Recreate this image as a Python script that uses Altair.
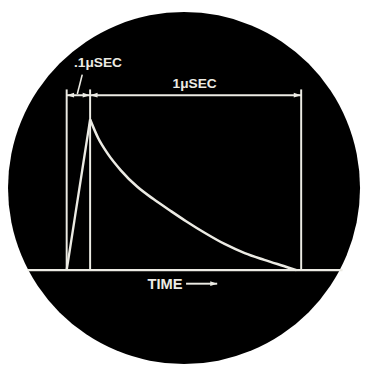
import altair as alt
import pandas as pd

# --- values (time in µs, amplitude relative to peak) ---
rise_t = [0.0, 0.11]
rise_a = [0.0, 1.0]

decay_t = [0.11, 0.147, 0.193, 0.254, 0.330, 0.407, 0.483, 0.560, 0.651, 0.743, 0.835, 0.927, 1.018, 1.078]
decay_a = [1.0, 0.879, 0.772, 0.663, 0.555, 0.472, 0.398, 0.325, 0.245, 0.172, 0.113, 0.068, 0.027, 0.0]

marker_t = [0.0, 0.11, 1.10]          # vertical reference lines
marker_top = 1.20

dim_a = 1.162                          # dimension line level
arrow_t = [0.0, 0.11, 0.11, 1.10]
arrow_dir = ["left", "right", "left", "right"]

base_t = [-0.183, 1.294]               # horizontal time axis

labels = [".1\u03bcSEC", "1\u03bcSEC"]
label_t = [0.147, 0.60]
label_a = [1.375, 1.235]

leader_t = [0.073, 0.050]
leader_a = [1.298, 1.170]

time_label = "TIME"
time_label_t = 0.461
time_label_a = -0.090
time_arrow_t = [0.56, 0.706]

INK = "#ecebe4"
xs = alt.Scale(domain=[-0.2752, 1.3853], nice=False, zero=False)
ys = alt.Scale(domain=[-0.6234, 1.7143], nice=False, zero=False)
X = lambda f: alt.X(f, scale=xs, axis=None)
Y = lambda f: alt.Y(f, scale=ys, axis=None)

screen = alt.Chart(pd.DataFrame({"k": [0]})).mark_circle(
    color="black", opacity=1, clip=False
).encode(x=alt.value(180), y=alt.value(180), size=alt.value(129600))

rise = alt.Chart(pd.DataFrame({"t": rise_t, "a": rise_a})).mark_line(
    color=INK, strokeWidth=2.4
).encode(x=X("t:Q"), y=Y("a:Q"))

decay = alt.Chart(pd.DataFrame({"t": decay_t, "a": decay_a})).mark_line(
    color=INK, strokeWidth=2.6, interpolate="monotone"
).encode(x=X("t:Q"), y=Y("a:Q"))

verts = alt.Chart(pd.DataFrame({"t": marker_t, "top": [marker_top] * 3, "bot": [0.0] * 3})).mark_rule(
    color=INK, strokeWidth=2
).encode(x=X("t:Q"), y=Y("top:Q"), y2="bot:Q")

dim = alt.Chart(pd.DataFrame({"t0": [marker_t[0]], "t1": [marker_t[-1]], "a": [dim_a]})).mark_rule(
    color=INK, strokeWidth=2
).encode(x=X("t0:Q"), x2="t1:Q", y=Y("a:Q"))

arrows = alt.Chart(pd.DataFrame({"t": arrow_t, "d": arrow_dir, "a": [dim_a] * 4})).mark_point(
    filled=True, opacity=1, color=INK, size=230, strokeWidth=0
).encode(
    x=X("t:Q"), y=Y("a:Q"),
    shape=alt.Shape("d:N", scale=alt.Scale(
        domain=["left", "right"],
        range=["M0,0L1,-0.32L1,0.32Z", "M0,0L-1,-0.32L-1,0.32Z"]), legend=None),
)

base = alt.Chart(pd.DataFrame({"t0": [base_t[0]], "t1": [base_t[1]], "a": [0.0]})).mark_rule(
    color=INK, strokeWidth=2.2
).encode(x=X("t0:Q"), x2="t1:Q", y=Y("a:Q"))

leader = alt.Chart(pd.DataFrame({"t": leader_t, "a": leader_a})).mark_line(
    color=INK, strokeWidth=1.6
).encode(x=X("t:Q"), y=Y("a:Q"))

lab = alt.Chart(pd.DataFrame({"t": label_t, "a": label_a, "s": labels})).mark_text(
    color=INK, font="Liberation Sans", fontWeight="bold", fontSize=14, baseline="middle", align="center"
).encode(x=X("t:Q"), y=Y("a:Q"), text="s:N")

tlab = alt.Chart(pd.DataFrame({"t": [time_label_t], "a": [time_label_a], "s": [time_label]})).mark_text(
    color=INK, font="Liberation Sans", fontWeight="bold", fontSize=15, baseline="middle", align="center"
).encode(x=X("t:Q"), y=Y("a:Q"), text="s:N")

tline = alt.Chart(pd.DataFrame({"t0": [time_arrow_t[0]], "t1": [time_arrow_t[1]], "a": [time_label_a]})).mark_rule(
    color=INK, strokeWidth=2
).encode(x=X("t0:Q"), x2="t1:Q", y=Y("a:Q"))

thead = alt.Chart(pd.DataFrame({"t": [time_arrow_t[1]], "a": [time_label_a]})).mark_point(
    filled=True, opacity=1, color=INK, size=200, strokeWidth=0, shape="M0,0L-1,-0.35L-1,0.35Z"
).encode(x=X("t:Q"), y=Y("a:Q"))

chart = alt.layer(
    screen, base, verts, dim, arrows, leader, rise, decay, lab, tlab, tline, thead
).properties(width=362, height=360, padding=0, background="white").configure_view(stroke=None)

chart.save("out.html", embed_options={"renderer": "svg", "actions": False})
